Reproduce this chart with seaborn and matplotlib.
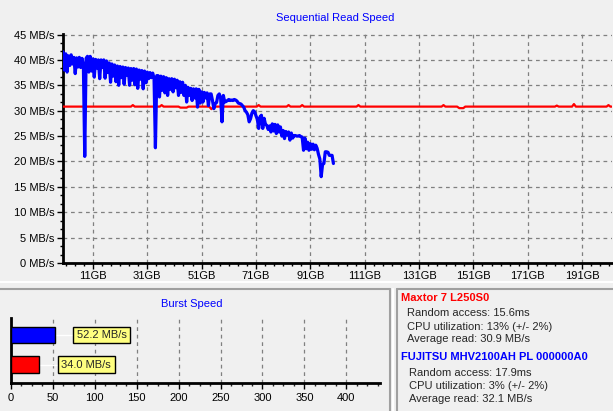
import numpy as np
import pandas as pd
import matplotlib
matplotlib.use("Agg")
import matplotlib.pyplot as plt
from matplotlib.lines import Line2D
from matplotlib.ticker import MultipleLocator, FixedLocator
import seaborn as sns

# --- data ---

# Fujitsu sequential read, one reading every 0.5 GB from 0 GB
fujitsu_step_gb = 0.5
fujitsu_mbs = [
    41.6, 38.0, 41.2, 37.6, 40.8, 38.9, 41.0, 39.2, 40.5, 37.3,   # 0-5 GB
    40.4, 38.6, 40.5, 38.5, 40.3, 39.0, 21.0, 40.3, 40.7, 37.6,   # 5-10
    40.7, 37.8, 40.2, 36.6, 40.1, 38.4, 40.0, 36.3, 40.0, 38.5,   # 10-15
    40.0, 36.4, 39.8, 37.5, 39.4, 35.6, 39.2, 36.8, 39.0, 35.7,   # 15-20
    38.8, 35.0, 38.7, 36.5, 38.6, 35.2, 38.5, 37.0, 38.4, 35.0,   # 20-25
    38.3, 36.0, 38.3, 35.1, 38.2, 34.4, 38.0, 36.2, 37.9, 34.3,   # 25-30
    37.8, 35.5, 37.6, 36.3, 37.5, 36.5, 37.4, 36.4, 22.7, 36.9,   # 30-35
    36.9, 32.7, 36.8, 34.0, 36.7, 33.5, 36.5, 33.0, 36.3, 34.2,   # 35-40
    36.3, 33.7, 36.2, 34.5, 36.0, 33.0, 35.7, 33.6, 35.6, 33.0,   # 40-45
    35.0, 31.7, 34.6, 33.0, 34.4, 32.0, 34.3, 32.5, 34.3, 30.7,   # 45-50
    34.2, 31.5, 33.7, 31.7, 33.6, 32.5, 33.5, 31.0, 33.3, 33.3,   # 50-55
    32.0, 30.4, 31.4, 31.6, 33.0, 33.3, 32.5, 27.8, 33.0, 31.7,   # 55-60
    31.8, 32.0, 32.2, 32.0, 32.1, 32.0, 32.2, 32.1, 31.9, 31.5,   # 60-65
    31.4, 31.3, 31.0, 30.7, 30.0, 29.7, 29.2, 27.8, 28.4, 29.5,   # 65-70
    30.0, 29.8, 29.0, 28.3, 26.5, 28.8, 29.1, 26.5, 28.5, 27.3,   # 70-75
    27.1, 26.3, 27.0, 25.8, 27.4, 26.0, 27.3, 25.5, 27.2, 25.8,   # 75-80
    26.8, 25.0, 26.1, 24.5, 25.9, 25.2, 25.8, 24.2, 25.6, 24.6,   # 80-85
    25.1, 25.1, 25.0, 25.0, 25.1, 24.9, 24.8, 22.2, 24.6, 22.5,   # 85-90
    23.8, 22.2, 23.5, 22.4, 23.4, 22.3, 23.2, 22.6, 21.4, 20.5,   # 90-95
    17.0, 19.4, 19.6, 21.9, 21.9, 21.8, 21.2, 21.2, 21.2, 19.6,   # 95-100
]

# Maxtor sequential read, break points of an almost flat trace
maxtor_gb = [0, 25.0, 25.7, 26.4, 35.6, 36.3, 37.0, 42.5, 43.2, 45.5, 46.2,
             53.8, 54.6, 55.4, 71.3, 72.0, 72.7, 82.3, 83.0, 83.7, 87.3, 88.0,
             88.7, 108.0, 108.7, 109.4, 139.3, 140.0, 140.7, 145.0, 145.8,
             147.3, 148.0, 181.0, 181.7, 182.4, 187.3, 188.0, 188.7, 200.0,
             200.7, 201.4, 206.0]
maxtor_mbs = [30.8, 30.8, 31.1, 30.8, 30.8, 31.1, 30.8, 30.8, 30.6, 30.6, 30.8,
              30.8, 30.3, 30.8, 30.8, 31.1, 30.8, 30.8, 31.1, 30.8, 30.8, 31.1,
              30.8, 30.8, 31.1, 30.8, 30.8, 31.1, 30.8, 30.8, 30.5,
              30.5, 30.8, 30.8, 31.0, 30.8, 30.8, 31.3, 30.8, 30.8,
              31.1, 30.8, 30.8]

seq_ticks = [11, 31, 51, 71, 91, 111, 131, 151, 171, 191]
seq_ticklabels = ["11GB", "31GB", "51GB", "71GB", "91GB",
                  "111GB", "131GB", "151GB", "171GB", "191GB"]
mbs_ticks = [0, 5, 10, 15, 20, 25, 30, 35, 40, 45]

burst_drives = ["FUJITSU MHV2100AH PL 000000A0", "Maxtor 7 L250S0"]
burst_mbs = [52.2, 34.0]
burst_ticks = [0, 50, 100, 150, 200, 250, 300, 350, 400]

drive_colors = {"Maxtor 7 L250S0": "#ff0000",
                "FUJITSU MHV2100AH PL 000000A0": "#0000ff"}

info_maxtor = ["Random access: 15.6ms", "CPU utilization: 13% (+/- 2%)",
               "Average read: 30.9 MB/s"]
info_fujitsu = ["Random access: 17.9ms", "CPU utilization: 3% (+/- 2%)",
                "Average read: 32.1 MB/s"]

# --- style ---
sns.set_style("white")
plt.rcParams["font.family"] = ["Liberation Sans", "DejaVu Sans"]
plt.rcParams["font.size"] = 8

BG = "#f0f0f0"
GRID = dict(color="#808080", linestyle=(0, (3, 3)), linewidth=0.9)
W, H = 613, 411


def fx(px):
    return px / W


def fy(py):
    return 1 - py / H


fig = plt.figure(figsize=(W / 100, H / 100), dpi=100, facecolor=BG)

# --- sequential read ---
ax = fig.add_axes([fx(63), fy(263), fx(612) - fx(63), fy(34) - fy(263)])
ax.set_facecolor(BG)

fujitsu_gb = np.arange(len(fujitsu_mbs)) * fujitsu_step_gb
sns.lineplot(x=maxtor_gb, y=maxtor_mbs, ax=ax, color="#ff0000",
             linewidth=1.6, zorder=3)
sns.lineplot(x=fujitsu_gb, y=fujitsu_mbs, ax=ax, color="#0000ff",
             linewidth=2.3, zorder=4)

ax.set_xlim(0, 202)
ax.set_ylim(0, 45.1)
ax.set_xticks(seq_ticks)
ax.set_xticklabels(seq_ticklabels)
ax.xaxis.set_minor_locator(FixedLocator(np.arange(11 - 3 * 20 / 6, 202, 20 / 6)))
ax.set_yticks(mbs_ticks)
ax.set_yticklabels([f"{v} MB/s" for v in mbs_ticks])
ax.yaxis.set_minor_locator(MultipleLocator(5 / 3))
ax.grid(True, which="major", **GRID)
ax.tick_params(axis="both", which="major", length=4, width=1, pad=2,
               colors="black", labelsize=8, bottom=True, left=True)
ax.tick_params(axis="both", which="minor", length=2, width=1,
               bottom=True, left=True, colors="black")
for s in ["top", "right"]:
    ax.spines[s].set_visible(False)
for s in ["left", "bottom"]:
    ax.spines[s].set_color("black")
    ax.spines[s].set_linewidth(2)
ax.set_xlabel("")
ax.set_ylabel("")
fig.text(fx(335), fy(18), "Sequential Read Speed", color="#0000ff",
         ha="center", va="center", fontsize=8)

# --- burst speed ---
bx = fig.add_axes([fx(10.7), fy(383), fx(380) - fx(10.7), fy(318) - fy(383)])
bx.set_facecolor(BG)
burst = pd.DataFrame({"drive": burst_drives, "mbs": burst_mbs})
sns.barplot(data=burst, x="mbs", y="drive", hue="drive", palette=drive_colors,
            orient="h", width=0.56, edgecolor="black", linewidth=1,
            saturation=1, legend=False, ax=bx, zorder=3)
bx.set_xlim(0, 440)
bx.set_ylim(1.627, -0.576)
bx.set_xticks(burst_ticks)
bx.xaxis.set_minor_locator(MultipleLocator(12.5))
bx.set_yticks([])
bx.grid(True, axis="x", which="major", **GRID)
bx.tick_params(axis="x", which="major", length=4, width=1, pad=3,
               labelsize=8, bottom=True, colors="black")
bx.tick_params(axis="x", which="minor", length=2, width=1, bottom=True)
for s in ["top", "right"]:
    bx.spines[s].set_visible(False)
for s in ["left", "bottom"]:
    bx.spines[s].set_color("black")
    bx.spines[s].set_linewidth(2)
bx.set_xlabel("")
bx.set_ylabel("")
for i, v in enumerate(burst_mbs):
    bx.hlines(i, v, v + 23, color="white", linewidth=1, zorder=2)
    bx.text(v + 26.5, i, f"{v:.1f} MB/s", ha="left", va="center",
            fontsize=8, zorder=5,
            bbox=dict(boxstyle="square,pad=0.3", facecolor="#ffff80",
                      edgecolor="black", linewidth=1))
fig.text(fx(192), fy(304), "Burst Speed", color="#0000ff",
         ha="center", va="center", fontsize=8)

# --- panel frames ---
frame = dict(transform=fig.transFigure, linewidth=1.5)
fig.add_artist(Line2D([0, 1], [fy(282), fy(282)], color="white", **frame))
fig.add_artist(Line2D([0, fx(390)], [fy(288.5), fy(288.5)], color="#a0a0a0", **frame))
fig.add_artist(Line2D([fx(390), fx(390)], [fy(288.5), 0], color="#a0a0a0", **frame))
fig.add_artist(Line2D([fx(393), fx(393)], [fy(288.5), 0], color="white", **frame))
fig.add_artist(Line2D([fx(397), 1], [fy(289), fy(289)], color="#a0a0a0", **frame))
fig.add_artist(Line2D([fx(397), fx(397)], [fy(289), 0], color="#a0a0a0", **frame))

# --- drive info ---
fig.text(fx(401), fy(298), "Maxtor 7 L250S0", color="#ff0000",
         fontweight="bold", ha="left", va="center", fontsize=8)
for line, py in zip(info_maxtor, [313, 326.5, 338.5]):
    fig.text(fx(407), fy(py), line, ha="left", va="center", fontsize=8)
fig.text(fx(401), fy(357), "FUJITSU MHV2100AH PL 000000A0", color="#0000ff",
         fontweight="bold", ha="left", va="center", fontsize=8)
for line, py in zip(info_fujitsu, [373, 386, 399]):
    fig.text(fx(409), fy(py), line, ha="left", va="center", fontsize=8)

fig.savefig("out.png", dpi=100, facecolor=BG)
